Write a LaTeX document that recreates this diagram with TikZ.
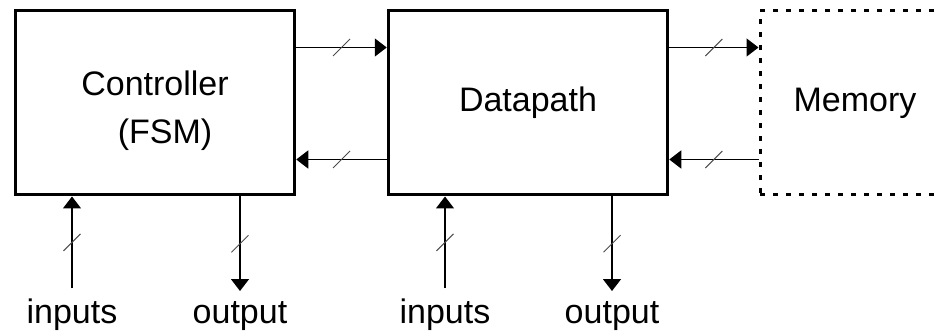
\documentclass[tikz,border=0pt]{standalone}
\usepackage{fontspec}
\setmainfont{Liberation Sans}
\usetikzlibrary{arrows.meta,positioning,decorations.markings}

\begin{document}
\begin{tikzpicture}[x=1pt,y=1pt,
  every node/.style={font=\fontsize{34}{48}\selectfont},
  block/.style={draw,line width=3pt,minimum width=279.5pt,minimum height=184pt,inner sep=0pt,align=center},
  ghost/.style={draw,line width=3pt,dash pattern=on 5pt off 8pt,minimum width=190pt,minimum height=184pt,inner sep=0pt},
  iolabel/.style={anchor=base,inner sep=2pt,outer sep=9pt},
  bus/.style={line width=1.5pt,-{Triangle[length=12pt,width=18pt]},postaction={decorate},
    decoration={markings,mark=at position 0.5 with {\pgftransformresetnontranslations
      \draw[-,line width=1pt,black!70] (-8.5pt,-8.5pt)--(8.5pt,8.5pt);}}}]
\useasboundingbox (0,0) rectangle (936,334);
% blocks
\node[block] (ctrl) at (155,231) {};
\node[align=center] (ctrltext) at ([yshift=-8pt]ctrl.center) {Controller\\\hspace*{20pt}(FSM)};
\node[block] (dp) at (528,231) {Datapath};
\node[ghost] (mem) at (855,231) {Memory};
% outside signals
\node[iolabel] (in1) at (72,10) {inputs};
\node[iolabel] (out1) at (240,10) {output};
\node[iolabel] (in2) at (445,10) {inputs};
\node[iolabel] (out2) at (612,10) {output};
% buses between blocks
\draw[bus] ([yshift=-38pt]ctrl.north east) -- ([yshift=-38pt]dp.north west);
\draw[bus] ([yshift=-150pt]dp.north west) -- ([yshift=-150pt]ctrl.north east);
\draw[bus] ([yshift=-38pt]dp.north east) -- ([yshift=-38pt]mem.north west);
\draw[bus] ([yshift=-150pt]mem.north west) -- ([yshift=-150pt]dp.north east);
% buses to the outside
\draw[bus] (in1.north) -- (in1.north |- ctrl.south);
\draw[bus] (out1.north |- ctrl.south) -- (out1.north);
\draw[bus] (in2.north) -- (in2.north |- dp.south);
\draw[bus] (out2.north |- dp.south) -- (out2.north);
\end{tikzpicture}
\end{document}
